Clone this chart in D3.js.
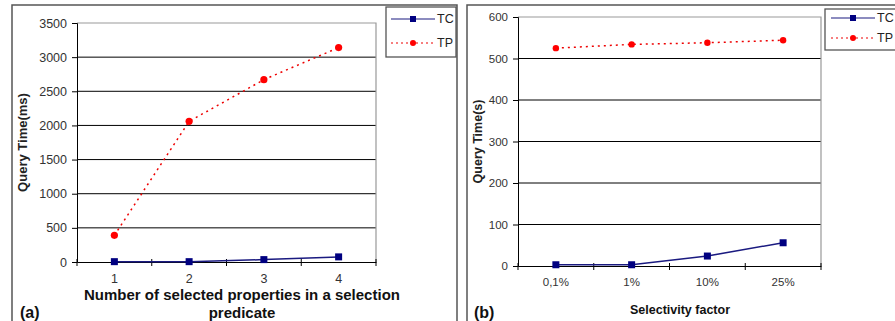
<!DOCTYPE html>
<html>
<head>
<meta charset="utf-8">
<script src="https://cdn.jsdelivr.net/npm/d3@7"></script>
<style>
  body { margin: 0; background: #fff; }
  svg { display: block; font-family: "Liberation Sans", Arial, sans-serif; }
</style>
</head>
<body>
<svg id="chart" width="895" height="321"></svg>
<script>
// panel (a)
const propCounts = ["1", "2", "3", "4"];
const propTC = [5, 5, 35, 75];
const propTP = [390, 2060, 2670, 3140];
const propTicks = [0, 500, 1000, 1500, 2000, 2500, 3000, 3500];

// panel (b)
const selFactors = ["0,1%", "1%", "10%", "25%"];
const selTC = [3, 3, 24, 56];
const selTP = [525, 534, 538, 544];
const selTicks = [0, 100, 200, 300, 400, 500, 600];

const svg = d3.select("#chart");

function drawPanel(cfg) {
    const g = svg.append("g");

    // outer frame (runs off the bottom of the picture)
    g.append("rect")
        .attr("x", cfg.frame[0]).attr("y", 5)
        .attr("width", cfg.frame[1] - cfg.frame[0]).attr("height", 340)
        .attr("fill", "none").attr("stroke", "#555").attr("stroke-width", 1.5);

    const x = d3.scaleBand()
        .domain(cfg.cats)
        .range([cfg.left, cfg.right]);
    const y = d3.scaleLinear()
        .domain([0, cfg.ticks[cfg.ticks.length - 1]])
        .range([cfg.bottom, cfg.top]);

    // gridlines
    g.selectAll(".grid")
        .data(cfg.ticks.slice(1, -1))
        .enter().append("line")
        .attr("x1", cfg.left).attr("x2", cfg.right)
        .attr("y1", d => y(d)).attr("y2", d => y(d))
        .attr("stroke", "#000").attr("stroke-width", 1);

    // plot area border (top, right)
    g.append("path")
        .attr("d", `M${cfg.left},${cfg.top}H${cfg.right}V${cfg.bottom}`)
        .attr("fill", "none").attr("stroke", "#999").attr("stroke-width", 1.2);

    // y axis
    const yAxis = g.append("g")
        .attr("transform", `translate(${cfg.left},0)`)
        .call(d3.axisLeft(y).tickValues(cfg.ticks).tickFormat(d3.format("d"))
            .tickSize(5).tickPadding(5));
    yAxis.select(".domain").attr("stroke", "#000");
    yAxis.selectAll("text").attr("font-size", cfg.tickSize).attr("fill", "#333")
        .attr("font-family", "Liberation Sans, Arial, sans-serif");

    // x axis: labels centred in bands, ticks on band edges
    const xAxis = g.append("g")
        .attr("transform", `translate(0,${cfg.bottom})`)
        .call(d3.axisBottom(x).tickSize(0).tickPadding(cfg.xPad));
    xAxis.select(".domain").attr("stroke", "#000");
    xAxis.selectAll("text").attr("font-size", cfg.tickSize).attr("fill", "#333")
        .attr("font-family", "Liberation Sans, Arial, sans-serif");
    g.selectAll(".xtick")
        .data(d3.range(cfg.cats.length + 1))
        .enter().append("line")
        .attr("x1", i => cfg.left + i * x.step())
        .attr("x2", i => cfg.left + i * x.step())
        .attr("y1", cfg.bottom - 3).attr("y2", cfg.bottom + 4)
        .attr("stroke", "#000");

    const cx = d => x(d) + x.bandwidth() / 2;

    // TP line (red dotted)
    g.append("path")
        .datum(cfg.tp)
        .attr("d", d3.line().x((d, i) => cx(cfg.cats[i])).y(d => y(d)))
        .attr("fill", "none").attr("stroke", "#e00")
        .attr("stroke-width", 1.5).attr("stroke-dasharray", "2,4");
    g.selectAll(".tp")
        .data(cfg.tp)
        .enter().append("circle")
        .attr("cx", (d, i) => cx(cfg.cats[i])).attr("cy", d => y(d))
        .attr("r", cfg.dot).attr("fill", "#f00");

    // TC line (navy)
    g.append("path")
        .datum(cfg.tc)
        .attr("d", d3.line().x((d, i) => cx(cfg.cats[i])).y(d => y(d)))
        .attr("fill", "none").attr("stroke", "#1a1a80").attr("stroke-width", 1.5);
    g.selectAll(".tc")
        .data(cfg.tc)
        .enter().append("rect")
        .attr("x", (d, i) => cx(cfg.cats[i]) - 3.5).attr("y", d => y(d) - 3.5)
        .attr("width", 7).attr("height", 7).attr("fill", "#000080");

    // y title
    g.append("text")
        .attr("transform", `translate(${cfg.yTitleX},${(cfg.top + cfg.bottom) / 2}) rotate(-90)`)
        .attr("text-anchor", "middle").attr("font-size", cfg.yTitleSize).attr("font-weight", "bold")
        .attr("fill", "#222")
        .text(cfg.yTitle);

    // x title
    const xt = g.append("text")
        .attr("text-anchor", "middle").attr("font-weight", "bold")
        .attr("font-size", cfg.xTitleSize).attr("fill", "#111");
    cfg.xTitle.forEach((line, i) => {
        xt.append("tspan").attr("x", cfg.xTitleX).attr("y", cfg.xTitleY + i * 18).text(line);
    });

    // panel tag
    g.append("text")
        .attr("x", cfg.tagX).attr("y", 318)
        .attr("font-size", 16).attr("font-weight", "bold").attr("fill", "#111")
        .text(cfg.tag);

    // legend
    const lg = g.append("g");
    lg.append("rect")
        .attr("x", cfg.legend[0]).attr("y", cfg.legend[1])
        .attr("width", cfg.legend[2]).attr("height", cfg.legend[3])
        .attr("fill", "#fff").attr("stroke", "#555").attr("stroke-width", 1.3);
    const lx = cfg.legend[0] + cfg.legPad;
    const rows = [
        { name: "TC", y: cfg.legRows[0] },
        { name: "TP", y: cfg.legRows[1] }
    ];
    rows.forEach(r => {
        const isTC = r.name === "TC";
        lg.append("line")
            .attr("x1", lx).attr("x2", lx + 44).attr("y1", r.y).attr("y2", r.y)
            .attr("stroke", isTC ? "#1a1a80" : "#e00").attr("stroke-width", 1.2)
            .attr("stroke-dasharray", isTC ? null : "2,3");
        if (isTC) {
            lg.append("rect").attr("x", lx + 19).attr("y", r.y - 3)
                .attr("width", 6).attr("height", 6).attr("fill", "#000080");
        } else {
            lg.append("circle").attr("cx", lx + 22).attr("cy", r.y).attr("r", 3).attr("fill", "#f00");
        }
        lg.append("text")
            .attr("x", lx + 46).attr("y", r.y + 4)
            .attr("font-size", 12.5).attr("fill", "#222")
            .text(r.name);
    });
}

drawPanel({
    frame: [12, 457],
    left: 77, right: 376, top: 23, bottom: 262,
    cats: propCounts, tc: propTC, tp: propTP, ticks: propTicks,
    tickSize: 12.5, xPad: 12, dot: 3.6,
    yTitle: "Query Time(ms)", yTitleX: 27, yTitleSize: 13,
    xTitle: ["Number of selected properties in a selection", "predicate"],
    xTitleX: 242, xTitleY: 300, xTitleSize: 15,
    tag: "(a)", tagX: 20,
    legend: [386, 7, 70, 50], legPad: 5, legRows: [19, 43]
});

drawPanel({
    frame: [467, 905],
    left: 518, right: 821, top: 17, bottom: 266,
    cats: selFactors, tc: selTC, tp: selTP, ticks: selTicks,
    tickSize: 11.5, xPad: 12, dot: 3.2,
    yTitle: "Query Time(s)", yTitleX: 482, yTitleSize: 12.5,
    xTitle: ["Selectivity factor"],
    xTitleX: 680, xTitleY: 314, xTitleSize: 12.5,
    tag: "(b)", tagX: 474,
    legend: [825, 9, 80, 41], legPad: 6, legRows: [18, 38]
});
</script>
</body>
</html>
